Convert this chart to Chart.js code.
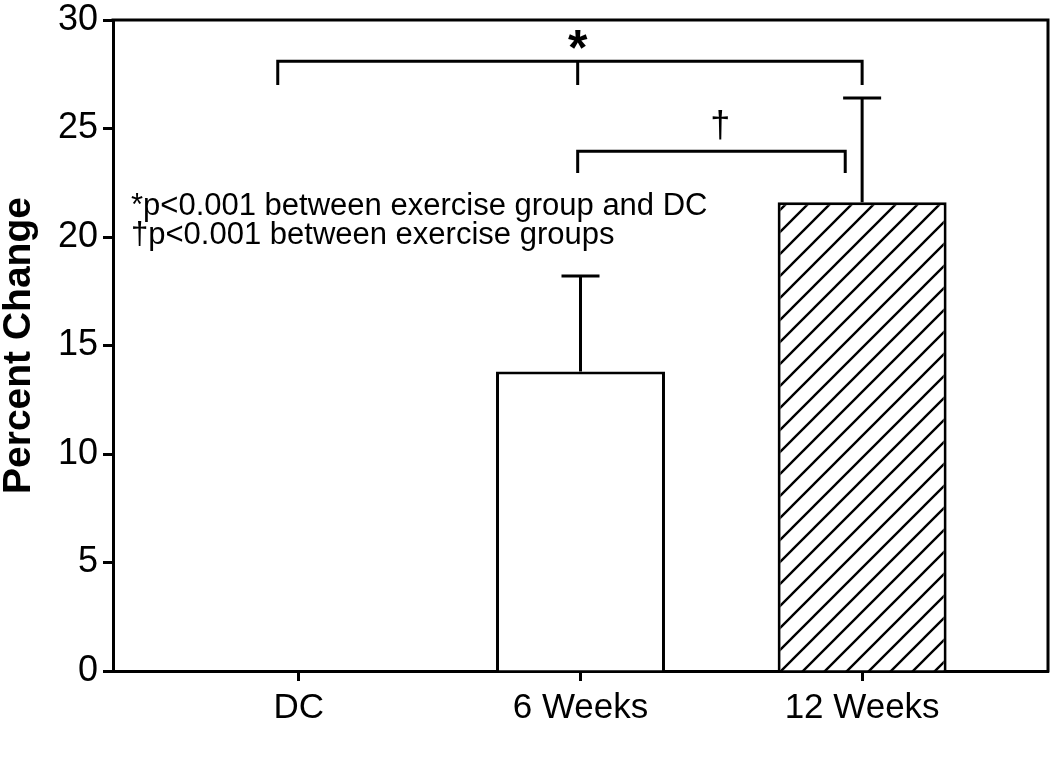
<!DOCTYPE html>
<html>
<head>
<meta charset="utf-8">
<script src="https://cdn.jsdelivr.net/npm/chart.js@4/dist/chart.umd.min.js"></script>
<style>
  html, body { margin: 0; padding: 0; background: #fff; }
  #wrap { width: 1050px; height: 758px; }
</style>
</head>
<body>
<div id="wrap"><canvas id="chart" width="1050" height="758"></canvas></div>
<script>
// ---- data ----
var categories = ["DC", "6 Weeks", "12 Weeks"];
var meanChange = [0, 13.8, 21.6];     // percent change
var sdChange = [0, 4.4, 4.8];         // upper error bar length
var yTicks = [0, 5, 10, 15, 20, 25, 30];
var footnotes = ["*p<0.001 between exercise group and DC", "\u2020p<0.001 between exercise groups"];

// significance brackets (data units: x = category index, y = percent)
var starBracket = { x1: -0.075, x2: 2, mid: 0.99, y: 28.1, leg: 27.0, mark: "*", markY: 29.0 };
var daggerBracket = { x1: 0.99, x2: 1.94, y: 23.95, leg: 22.95, mark: "\u2020", markX: 1.496, markY: 24.6 };

var font = "'Liberation Sans', Arial, sans-serif";

// hatch pattern for the 12 week bar
function hatch() {
    var s = 22;
    var c = document.createElement('canvas');
    c.width = s; c.height = s;
    var g = c.getContext('2d');
    g.fillStyle = '#fff';
    g.fillRect(0, 0, s, s);
    g.strokeStyle = '#000';
    g.lineWidth = 2.4;
    g.beginPath();
    g.moveTo(0, s); g.lineTo(s, 0);
    g.moveTo(-s / 2, s / 2); g.lineTo(s / 2, -s / 2);
    g.moveTo(s / 2, s * 1.5); g.lineTo(s * 1.5, s / 2);
    g.stroke();
    return g.createPattern(c, 'repeat');
}

var extras = {
    id: 'extras',
    afterDatasetsDraw: function (chart) {
        var ctx = chart.ctx;
        var xs = chart.scales.x, ys = chart.scales.y;
        var a = chart.chartArea;
        ctx.save();
        ctx.strokeStyle = '#000';
        ctx.fillStyle = '#000';
        ctx.lineWidth = 3;
        ctx.lineCap = 'butt';
        // box top + right
        ctx.beginPath();
        ctx.moveTo(a.left - 1.5, a.top);
        ctx.lineTo(a.right, a.top);
        ctx.lineTo(a.right, a.bottom + 1.5);
        ctx.stroke();
        // error bars (upper only)
        meanChange.forEach(function (m, i) {
            if (!sdChange[i]) return;
            var x = xs.getPixelForValue(i);
            var y0 = ys.getPixelForValue(m);
            var y1 = ys.getPixelForValue(m + sdChange[i]);
            ctx.beginPath();
            ctx.moveTo(x, y0);
            ctx.lineTo(x, y1);
            ctx.moveTo(x - 19, y1);
            ctx.lineTo(x + 19, y1);
            ctx.stroke();
        });
        // star bracket
        var b = starBracket;
        ctx.beginPath();
        ctx.moveTo(xs.getPixelForValue(b.x1), ys.getPixelForValue(b.leg));
        ctx.lineTo(xs.getPixelForValue(b.x1), ys.getPixelForValue(b.y));
        ctx.lineTo(xs.getPixelForValue(b.x2), ys.getPixelForValue(b.y));
        ctx.lineTo(xs.getPixelForValue(b.x2), ys.getPixelForValue(b.leg));
        ctx.moveTo(xs.getPixelForValue(b.mid), ys.getPixelForValue(b.y));
        ctx.lineTo(xs.getPixelForValue(b.mid), ys.getPixelForValue(b.leg));
        ctx.stroke();
        ctx.textAlign = 'center';
        ctx.textBaseline = 'alphabetic';
        ctx.font = "bold 50px " + font;
        ctx.fillText(b.mark, xs.getPixelForValue(b.mid), ys.getPixelForValue(b.markY) + 23);
        // dagger bracket
        var d = daggerBracket;
        ctx.beginPath();
        ctx.moveTo(xs.getPixelForValue(d.x1), ys.getPixelForValue(d.leg));
        ctx.lineTo(xs.getPixelForValue(d.x1), ys.getPixelForValue(d.y));
        ctx.lineTo(xs.getPixelForValue(d.x2), ys.getPixelForValue(d.y));
        ctx.lineTo(xs.getPixelForValue(d.x2), ys.getPixelForValue(d.leg));
        ctx.stroke();
        ctx.font = "36px " + font;
        ctx.fillText(d.mark, xs.getPixelForValue(d.markX), ys.getPixelForValue(d.markY));
        // footnotes
        ctx.textAlign = 'left';
        ctx.font = "31px " + font;
        ctx.fillText(footnotes[0], xs.getPixelForValue(-0.596), ys.getPixelForValue(21.0));
        ctx.fillText(footnotes[1], xs.getPixelForValue(-0.596), ys.getPixelForValue(19.7));
        ctx.restore();
    }
};

var chart = new Chart(document.getElementById('chart').getContext('2d'), {
    type: 'bar',
    data: {
        datasets: [{
            data: categories.map(function (c, i) { return { x: i, y: meanChange[i] }; }),
            backgroundColor: ['#fff', '#fff', hatch()],
            borderColor: '#000',
            borderWidth: 3,
            categoryPercentage: 0.6,
            barPercentage: 1
        }]
    },
    plugins: [extras],
    options: {
        responsive: false,
        animation: false,
        events: [],
        layout: { autoPadding: false, padding: { top: 20, right: 2, left: 0, bottom: 0 } },
        plugins: {
            legend: { display: false },
            tooltip: { enabled: false }
        },
        scales: {
            x: {
                type: 'linear',
                min: -0.66,
                max: 2.66,
                offset: false,
                afterBuildTicks: function (scale) {
                    scale.ticks = categories.map(function (c, i) { return { value: i }; });
                },
                afterFit: function (scale) {
                    scale.height = 87;
                    scale.paddingLeft = 0;
                    scale.paddingRight = 0;
                },
                ticks: {
                    autoSkip: false,
                    maxRotation: 0,
                    padding: 6,
                    color: '#000',
                    font: { family: font, size: 35 },
                    callback: function (v) { return categories[v]; }
                },
                grid: { offset: false, drawOnChartArea: false, drawTicks: true, tickLength: 10, tickWidth: 3, tickColor: '#000' },
                border: { display: true, color: '#000', width: 3 }
            },
            y: {
                min: 0,
                max: 30,
                afterBuildTicks: function (scale) {
                    scale.ticks = yTicks.map(function (v) { return { value: v }; });
                },
                afterFit: function (scale) {
                    scale.width = 113;
                    scale.paddingTop = 0;
                    scale.paddingBottom = 0;
                },
                ticks: {
                    padding: 5,
                    color: '#000',
                    font: { family: font, size: 36 }
                },
                grid: { drawOnChartArea: false, drawTicks: true, tickLength: 10, tickWidth: 3, tickColor: '#000' },
                border: { display: true, color: '#000', width: 3 },
                title: {
                    display: true,
                    text: 'Percent Change',
                    color: '#000',
                    font: { family: font, size: 39, weight: 'bold' },
                    padding: { top: -4, bottom: 0 }
                }
            }
        }
    }
});
</script>
</body>
</html>
